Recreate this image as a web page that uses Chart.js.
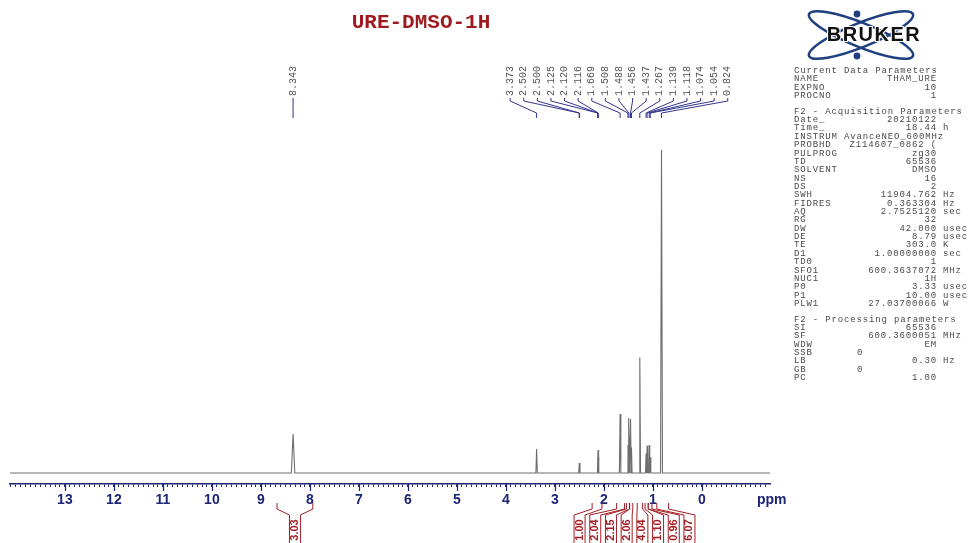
<!DOCTYPE html>
<html>
<head>
<meta charset="utf-8">
<title>URE-DMSO-1H</title>
<script src="https://cdn.jsdelivr.net/npm/chart.js@4.4.1/dist/chart.umd.min.js"></script>
<style>
  html, body { margin: 0; padding: 0; background: #fff; }
  #wrap { position: relative; width: 970px; height: 543px; overflow: hidden; }
  #spectrum { position: absolute; left: 0; top: 0; }
  #title {
    position: absolute; left: 0; top: 11px; width: 842px; text-align: center;
    font: bold 21px "Liberation Mono", monospace; color: #9e1a1f;
  }
  #logo { position: absolute; left: 790px; top: 4px; }
  #params {
    position: absolute; left: 794px; top: 67px; width: 176px;
    font: 9px "Liberation Mono", monospace; letter-spacing: 0.85px; color: #4a4a4a;
  }
  #params .row { position: relative; height: 8.36px; line-height: 8.36px; white-space: pre; }
  #params .gap { height: 7.3px; }
  #params .val { position: absolute; right: 33px; top: 0; }
  #params .at { position: absolute; top: 0; }
  #params .unit { position: absolute; left: 149px; top: 0; }
</style>
</head>
<body>
<div id="wrap">
  <canvas id="spectrum" width="970" height="543"></canvas>
  <div id="title">URE-DMSO-1H</div>
  <svg id="logo" width="160" height="60" viewBox="0 0 160 60">
    <ellipse cx="71" cy="31" rx="56" ry="12" fill="none" stroke="#1f3f7f" stroke-width="2.6" transform="rotate(22 71 31)"/>
    <ellipse cx="71" cy="31" rx="56" ry="12" fill="none" stroke="#1f3f7f" stroke-width="2.6" transform="rotate(-22 71 31)"/>
    <circle cx="67" cy="10" r="3.4" fill="#1f3f7f"/>
    <circle cx="67" cy="52" r="3.4" fill="#1f3f7f"/>
    <text x="84" y="37" text-anchor="middle" font-family="Liberation Sans, Arial" font-weight="bold"
          font-size="20" letter-spacing="1.5" fill="#111" stroke="#fff" stroke-width="2.2" paint-order="stroke">BRUKER</text>
  </svg>
  <div id="params"></div>
</div>
<script>
// peaks (ppm, relative height, half width at the foot in ppm)
const peakShifts = [8.343, 3.373, 2.502, 2.500, 2.125, 2.120, 2.116, 1.669, 1.508, 1.488, 1.456, 1.437, 1.267, 1.139, 1.118, 1.074, 1.054, 0.824];
const peakHeights = [12.1, 7.4, 3.1, 3.1, 5.0, 7.1, 5.0, 18.3, 8.7, 17.0, 16.7, 8.0, 35.8, 6.0, 8.4, 8.7, 4.9, 100];
const peakWidths = [0.035, 0.015, 0.012, 0.012, 0.012, 0.012, 0.012, 0.015, 0.012, 0.012, 0.012, 0.012, 0.015, 0.012, 0.012, 0.012, 0.012, 0.02];

const majorTicks = [13, 12, 11, 10, 9, 8, 7, 6, 5, 4, 3, 2, 1, 0];

const integralFrom = [8.67, 2.24, 1.74, 1.54, 1.475, 1.32, 1.16, 1.095, 0.92];
const integralTo = [7.94, 2.04, 1.58, 1.475, 1.41, 1.21, 1.095, 1.02, 0.68];
const integralValues = ['3.03', '1.00', '2.04', '2.15', '2.06', '4.04', '1.10', '0.96', '6.07'];

// [name, value, unit, left offset when the value is not right aligned]
const currentParams = [['NAME', 'THAM_URE'], ['EXPNO', '10'], ['PROCNO', '1']];
const acquisitionParams = [
  ['Date_', '20210122'], ['Time_', '18.44', 'h'], ['INSTRUM', 'AvanceNEO_600MHz', null, 50], ['PROBHD', 'Z114607_0862 ('],
  ['PULPROG', 'zg30'], ['TD', '65536'], ['SOLVENT', 'DMSO'], ['NS', '16'], ['DS', '2'],
  ['SWH', '11904.762', 'Hz'], ['FIDRES', '0.363304', 'Hz'], ['AQ', '2.7525120', 'sec'], ['RG', '32'],
  ['DW', '42.000', 'usec'], ['DE', '8.79', 'usec'], ['TE', '303.0', 'K'], ['D1', '1.00000000', 'sec'],
  ['TD0', '1'], ['SFO1', '600.3637072', 'MHz'], ['NUC1', '1H'], ['P0', '3.33', 'usec'], ['P1', '10.00', 'usec'],
  ['PLW1', '27.03700066', 'W']
];
const processingParams = [
  ['SI', '65536'], ['SF', '600.3600051', 'MHz'], ['WDW', 'EM'], ['SSB', '0', null, 63],
  ['LB', '0.30', 'Hz'], ['GB', '0', null, 63], ['PC', '1.00']
];

const AXIS = '#1c2474';
const LABEL_LINE = '#33338c';
const INTEGRAL = '#a31d24';

// parameter panel
function addRow(panel, cells) {
  const row = document.createElement('div');
  row.className = 'row';
  const [key, value, unit, left] = cells;
  row.appendChild(document.createTextNode(key));
  if (value !== undefined) {
    const v = document.createElement('span');
    v.textContent = value;
    if (left) {
      v.className = 'at';
      v.style.left = left + 'px';
    } else {
      v.className = 'val';
    }
    row.appendChild(v);
  }
  if (unit) {
    const u = document.createElement('span');
    u.className = 'unit';
    u.textContent = unit;
    row.appendChild(u);
  }
  panel.appendChild(row);
}

function buildParams() {
  const panel = document.getElementById('params');
  const gap = () => { const g = document.createElement('div'); g.className = 'gap'; panel.appendChild(g); };
  addRow(panel, ['Current Data Parameters']);
  currentParams.forEach((r) => addRow(panel, r));
  gap();
  addRow(panel, ['F2 - Acquisition Parameters']);
  acquisitionParams.forEach((r) => addRow(panel, r));
  gap();
  addRow(panel, ['F2 - Processing parameters']);
  processingParams.forEach((r) => addRow(panel, r));
}

// labels that would collide are grouped and spread evenly around the group mean
function spreadLabels(xs, step) {
  let groups = xs.map((x, i) => ({ start: i, n: 1, sum: x, center: x }));
  let merged = true;
  while (merged) {
    merged = false;
    for (let i = 0; i < groups.length - 1; i++) {
      const a = groups[i];
      const b = groups[i + 1];
      const aEnd = a.center + (a.n - 1) * step / 2;
      const bStart = b.center - (b.n - 1) * step / 2;
      if (bStart - aEnd < step) {
        const n = a.n + b.n;
        const sum = a.sum + b.sum;
        groups.splice(i, 2, { start: a.start, n, sum, center: sum / n });
        merged = true;
        break;
      }
    }
  }
  const out = [];
  groups.forEach((g) => {
    for (let k = 0; k < g.n; k++) out[g.start + k] = g.center + (k - (g.n - 1) / 2) * step;
  });
  return out;
}

function rotatedText(ctx, text, x, y) {
  ctx.save();
  ctx.translate(x, y);
  ctx.rotate(-Math.PI / 2);
  ctx.textAlign = 'center';
  ctx.textBaseline = 'middle';
  ctx.fillText(text, 0, 0);
  ctx.restore();
}

const decorations = {
  id: 'decorations',
  afterDraw(chart) {
    const ctx = chart.ctx;
    const xs = chart.scales.x;
    const bottom = chart.chartArea.bottom;

    // longer marks on whole ppm
    ctx.save();
    ctx.strokeStyle = AXIS;
    ctx.lineWidth = 1.2;
    majorTicks.forEach((v) => {
      const x = Math.round(xs.getPixelForValue(v)) + 0.5;
      ctx.beginPath();
      ctx.moveTo(x, bottom);
      ctx.lineTo(x, bottom + 7);
      ctx.stroke();
    });
    ctx.fillStyle = AXIS;
    ctx.font = 'bold 14px "Liberation Sans", Arial, sans-serif';
    ctx.textBaseline = 'middle';
    ctx.fillText('ppm', 757, 500);
    ctx.restore();

    // peak picking labels
    ctx.save();
    const peakXs = peakShifts.map((s) => xs.getPixelForValue(s));
    const labelXs = spreadLabels(peakXs, 13.6);
    ctx.strokeStyle = LABEL_LINE;
    ctx.lineWidth = 1;
    ctx.fillStyle = '#555';
    ctx.font = '10px "Liberation Mono", monospace';
    peakShifts.forEach((s, i) => {
      const lx = labelXs[i];
      const px = peakXs[i];
      rotatedText(ctx, s.toFixed(3), lx, 81);
      ctx.beginPath();
      ctx.moveTo(lx, 98);
      ctx.lineTo(lx, 101);
      ctx.lineTo(px, 113);
      ctx.lineTo(px, 118);
      ctx.stroke();
    });
    ctx.restore();

    // integrals under the axis
    ctx.save();
    const centers = integralFrom.map((f, i) => xs.getPixelForValue((f + integralTo[i]) / 2));
    const boxXs = spreadLabels(centers, 15.7);
    ctx.strokeStyle = INTEGRAL;
    ctx.fillStyle = INTEGRAL;
    ctx.lineWidth = 1;
    ctx.font = 'bold 11px "Liberation Sans", Arial, sans-serif';
    integralFrom.forEach((f, i) => {
      const x1 = xs.getPixelForValue(f);
      const x2 = xs.getPixelForValue(integralTo[i]);
      const bx = boxXs[i];
      [[x1, bx - 5.5], [x2, bx + 5.5]].forEach(([ex, edge]) => {
        ctx.beginPath();
        ctx.moveTo(ex, 503);
        ctx.lineTo(ex, 509);
        ctx.lineTo(edge, 515);
        ctx.lineTo(edge, 543);
        ctx.stroke();
      });
      rotatedText(ctx, integralValues[i], bx, 530);
    });
    ctx.restore();
  }
};

function buildSpectrum() {
  const points = [{ x: 14.12, y: 0 }];
  peakShifts.forEach((s, i) => {
    points.push({ x: s + peakWidths[i], y: 0 }, { x: s, y: peakHeights[i] }, { x: s - peakWidths[i], y: 0 });
  });
  points.push({ x: -1.39, y: 0 });
  return points;
}

function drawChart() {
  const minorTicks = [];
  for (let k = 141; k >= -13; k--) minorTicks.push(k / 10);

  new Chart(document.getElementById('spectrum'), {
    type: 'line',
    data: {
      datasets: [{
        data: buildSpectrum(),
        borderColor: '#6e6e6e',
        borderWidth: 1.1,
        pointRadius: 0,
        tension: 0,
        fill: false
      }]
    },
    options: {
      responsive: false,
      animation: false,
      events: [],
      layout: { padding: { left: 10, right: 200, top: 100, bottom: 0 } },
      plugins: { legend: { display: false }, tooltip: { enabled: false } },
      scales: {
        x: {
          type: 'linear',
          reverse: true,
          min: -1.39,
          max: 14.12,
          afterBuildTicks: (scale) => { scale.ticks = minorTicks.map((v) => ({ value: v })); },
          afterFit: (scale) => { scale.height = 59; },
          grid: { drawOnChartArea: false, drawTicks: true, tickLength: 3, color: AXIS, lineWidth: 1 },
          border: { display: true, color: AXIS, width: 1.5 },
          ticks: {
            autoSkip: false,
            maxRotation: 0,
            padding: 5,
            color: AXIS,
            font: { family: '"Liberation Sans", Arial, sans-serif', weight: 'bold', size: 14 },
            callback: (value) => {
              const r = Math.round(value * 10) / 10;
              return majorTicks.includes(r) ? String(r) : '';
            }
          }
        },
        y: { display: false, min: -3.41, max: 115.5 }
      }
    },
    plugins: [decorations]
  });
}

buildParams();
drawChart();
</script>
</body>
</html>
